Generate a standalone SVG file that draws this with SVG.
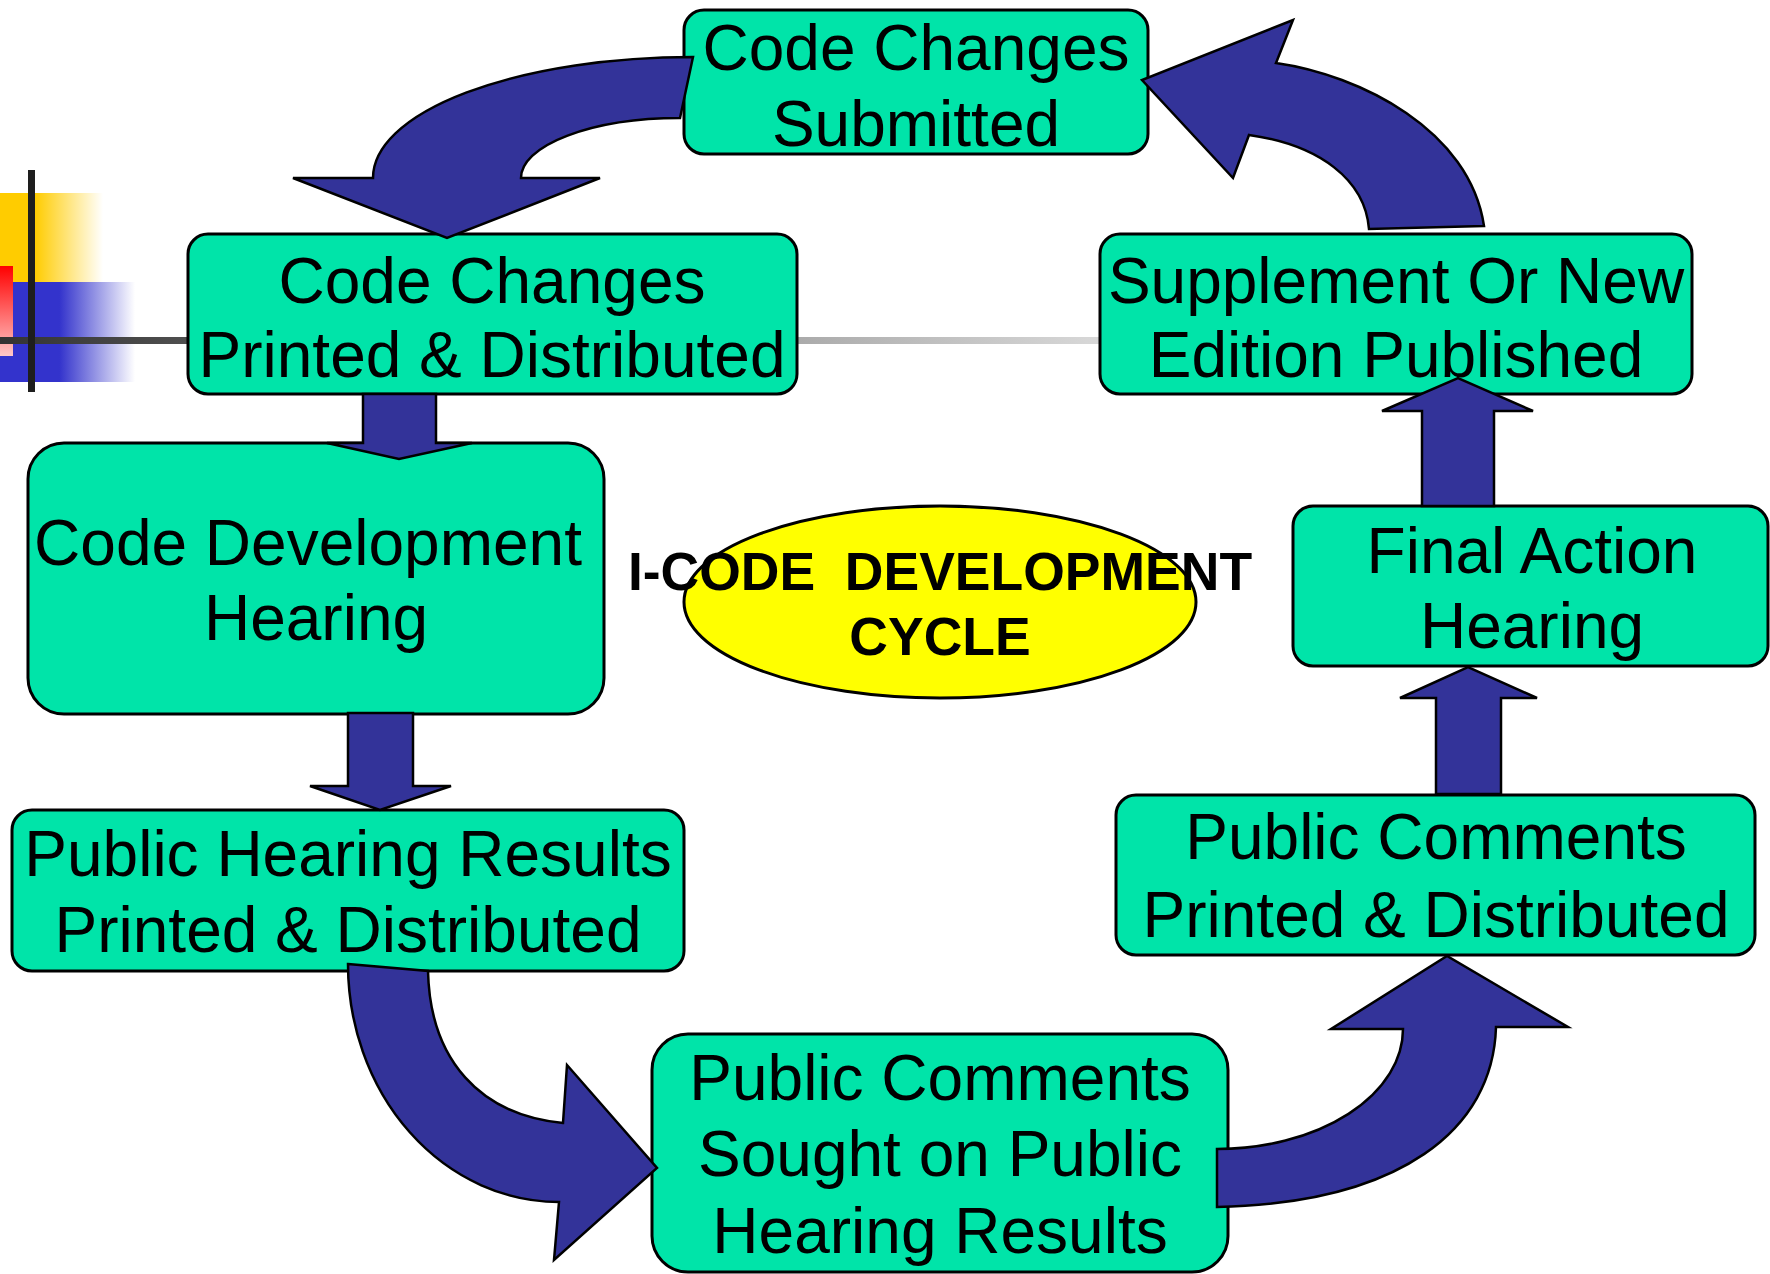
<svg xmlns="http://www.w3.org/2000/svg" width="1770" height="1274" viewBox="0 0 1770 1274">
<defs>
<linearGradient id="gY" x1="0" y1="0" x2="103" y2="0" gradientUnits="userSpaceOnUse"><stop offset="0.34" stop-color="#FFCC00"/><stop offset="1" stop-color="#FFCC00" stop-opacity="0"/></linearGradient>
<linearGradient id="gB" x1="0" y1="0" x2="135" y2="0" gradientUnits="userSpaceOnUse"><stop offset="0.44" stop-color="#3333CC"/><stop offset="1" stop-color="#3333CC" stop-opacity="0"/></linearGradient>
<linearGradient id="gR" x1="0" y1="266" x2="0" y2="356" gradientUnits="userSpaceOnUse"><stop offset="0" stop-color="#FF0000"/><stop offset="1" stop-color="#FFC8C8"/></linearGradient>
<linearGradient id="gL" x1="0" y1="0" x2="1100" y2="0" gradientUnits="userSpaceOnUse"><stop offset="0" stop-color="#333333"/><stop offset="1" stop-color="#D8D8D8"/></linearGradient>
</defs>
<style>
.box{fill:#00E4A9;stroke:#000;stroke-width:3}
.lbl{font-family:"Liberation Sans",Arial,sans-serif;font-size:64px;fill:#000;text-anchor:middle}
.arr{fill:#333399;stroke:#000;stroke-width:2.5;stroke-linejoin:miter}
.title{font-family:"Liberation Sans",Arial,sans-serif;font-size:53.5px;font-weight:bold;fill:#000;text-anchor:middle}
</style>
<g id="decoration">
<rect x="0" y="193" width="103" height="89" fill="url(#gY)"/>
<rect x="0" y="282" width="135" height="100" fill="url(#gB)"/>
<rect x="0" y="266" width="13" height="90" fill="url(#gR)"/>
<rect x="0" y="337" width="1100" height="7" fill="url(#gL)"/>
<rect x="28" y="170" width="7" height="222" fill="#1E1E1E"/>
</g>
<g id="node-submitted">
<rect class="box" x="684" y="10" width="464" height="144" rx="20"/>
<text class="lbl" x="916" y="70">Code Changes</text>
<text class="lbl" x="916" y="146">Submitted</text>
</g>
<g id="node-printed">
<rect class="box" x="188" y="234" width="609" height="160" rx="20"/>
<text class="lbl" x="492" y="303">Code Changes</text>
<text class="lbl" x="492" y="377">Printed &amp; Distributed</text>
</g>
<g id="node-supplement">
<rect class="box" x="1100" y="234" width="592" height="160" rx="20"/>
<text class="lbl" x="1396" y="303">Supplement Or New</text>
<text class="lbl" x="1396" y="377">Edition Published</text>
</g>
<g id="node-cdh">
<rect class="box" x="28" y="443" width="576" height="271" rx="36"/>
<text class="lbl" x="308" y="565">Code Development</text>
<text class="lbl" x="316" y="640">Hearing</text>
</g>
<g id="node-fah">
<rect class="box" x="1293" y="506" width="475" height="160" rx="20"/>
<text class="lbl" x="1532" y="573">Final Action</text>
<text class="lbl" x="1532" y="648">Hearing</text>
</g>
<g id="node-phr">
<rect class="box" x="12" y="810" width="672" height="161" rx="20"/>
<text class="lbl" x="348" y="876">Public Hearing Results</text>
<text class="lbl" x="348" y="952">Printed &amp; Distributed</text>
</g>
<g id="node-pcpd">
<rect class="box" x="1116" y="795" width="639" height="160" rx="20"/>
<text class="lbl" x="1436" y="859">Public Comments</text>
<text class="lbl" x="1436" y="937">Printed &amp; Distributed</text>
</g>
<g id="node-pcs">
<rect class="box" x="652" y="1034" width="576" height="238" rx="36"/>
<text class="lbl" x="940" y="1100">Public Comments</text>
<text class="lbl" x="940" y="1176">Sought on Public</text>
<text class="lbl" x="940" y="1253">Hearing Results</text>
</g>
<g id="node-center">
<ellipse cx="940" cy="602" rx="256" ry="96" fill="#FFFF00" stroke="#000" stroke-width="3"/>
<text class="title" x="940" y="590" xml:space="preserve">I-CODE  DEVELOPMENT</text>
<text class="title" x="940" y="655">CYCLE</text>
</g>
<g id="connectors">
<path class="arr" d="M693 57 A320 121 0 0 0 373 178 L293 178 L447 238 L600 178 L521 178 A159 60 0 0 1 680 118 Z"/>
<path class="arr" d="M363 394 L436 394 L436 443 L472 443 L399 459 L327 443 L363 443 Z"/>
<path class="arr" d="M348 713 L413 713 L413 786 L451 786 L380 810 L310 786 L348 786 Z"/>
<path class="arr" d="M348 964 L428 971 C430 1060 480 1115 563 1123 L567 1065 L657 1168 L554 1260 L559 1202 A211 238 0 0 1 348 964 Z"/>
<path class="arr" d="M1217 1149 A186 120 0 0 0 1403 1029 L1331 1029 L1447 956 L1568 1027 L1496 1027 C1493 1130 1400 1203 1217 1207 Z"/>
<path class="arr" d="M1436 794 L1436 698 L1400 698 L1468 667 L1537 698 L1501 698 L1501 794 Z"/>
<path class="arr" d="M1422 506 L1422 411 L1382 411 L1458 378 L1533 411 L1494 411 L1494 506 Z"/>
<path class="arr" d="M1484 226 L1369 229 C1365 180 1320 145 1249 135 L1233 178 L1142 80 L1293 20 L1276 63 C1360 75 1470 130 1484 226 Z"/>
</g>
</svg>
